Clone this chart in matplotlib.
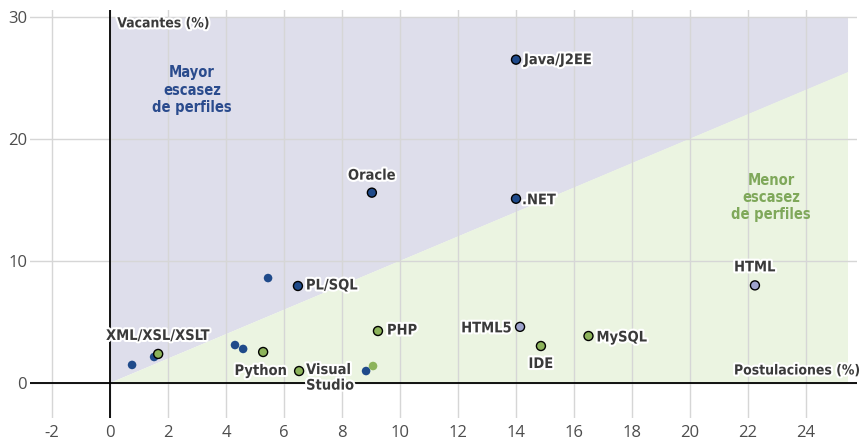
import matplotlib
matplotlib.use("Agg")
import matplotlib.pyplot as plt
import matplotlib.patheffects as pe

plt.rcParams["axes.unicode_minus"] = False

# labeled points
names = ["Java/J2EE", "Oracle", ".NET", "HTML", "PL/SQL", "PHP", "HTML5",
         "MySQL", "IDE", "Python", "Visual\nStudio", "XML/XSL/XSLT"]
post = [14.0, 9.03, 14.0, 22.24, 6.48, 9.24, 14.14, 16.5, 14.86, 5.28, 6.52, 1.66]
vac = [26.5, 15.6, 15.1, 8.0, 7.95, 4.26, 4.6, 3.85, 3.03, 2.54, 0.98, 2.38]
kind = ["blue", "blue", "blue", "lila", "blue", "green", "lila",
        "green", "green", "green", "green", "green"]

# unlabeled points
small_post = [5.45, 4.31, 4.59, 0.76, 1.52, 8.83, 9.07]
small_vac = [8.6, 3.11, 2.79, 1.48, 2.13, 0.98, 1.39]
small_kind = ["blue", "blue", "blue", "blue", "blue", "blue", "green"]

colors = {"blue": "#1f4a8a", "green": "#8cb35a", "lila": "#9ea3cc"}

# label placement: offset in pixels, ha, va
place = {
    "Java/J2EE": (8, 0, "left", "center"),
    "Oracle": (0, 10, "center", "bottom"),
    ".NET": (6, -1, "left", "center"),
    "HTML": (0, 11, "center", "bottom"),
    "PL/SQL": (8, 1, "left", "center"),
    "PHP": (9, 1, "left", "center"),
    "HTML5": (-8, -1, "right", "center"),
    "MySQL": (8, -1, "left", "center"),
    "IDE": (0, -10, "center", "top"),
    "Python": (24, -11, "right", "top"),
    "Visual\nStudio": (7, 9, "left", "top"),
    "XML/XSL/XSLT": (0, 11, "center", "bottom"),
}

lab_font = dict(family="DejaVu Sans", fontstretch="condensed", fontweight="bold")

fig = plt.figure(figsize=(8.64, 4.43), dpi=100)
ax = fig.add_axes([30 / 864, 25 / 443, 827 / 864, 408 / 443])
ax.set_xlim(-2.76, 25.76)
ax.set_ylim(-2.87, 30.57)

# shaded zones
xr = 25.45
ax.fill([0, xr, xr, 0], [0, xr, 30, 30], color="#dedeeb", lw=0, zorder=0.2)
ax.fill([0, xr, xr], [0, 0, xr], color="#ebf4e1", lw=0, zorder=0.2)

ax.set_axisbelow(True)
ax.grid(True, color="#d6d6d6", lw=1)
ax.set_xticks(range(-2, 25, 2))
ax.set_yticks([0, 10, 20, 30])
ax.tick_params(length=0, labelsize=12, labelcolor="#4d4d4d", pad=5)
ax.tick_params(axis="y", pad=2)
for lab in ax.get_xticklabels() + ax.get_yticklabels():
    lab.set_fontfamily(["Open Sans", "DejaVu Sans"])
for s in ax.spines.values():
    s.set_visible(False)
ax.axhline(0, color="black", lw=1.3, zorder=2)
ax.axvline(0, color="black", lw=1.3, zorder=2)

stroke = [pe.withStroke(linewidth=3, foreground="white")]

ax.scatter(small_post, small_vac, s=38, c=[colors[k] for k in small_kind],
           lw=0, zorder=3)
ax.scatter(post, vac, s=42, c=[colors[k] for k in kind],
           edgecolors="black", linewidths=1, zorder=4)

for n, x, y in zip(names, post, vac):
    dx, dy, ha, va = place[n]
    ax.annotate(n, (x, y), xytext=(dx, dy), textcoords="offset pixels",
                ha=ha, va=va, fontsize=10.5, color="#3a3a3a",
                linespacing=1.05, path_effects=stroke, zorder=5, **lab_font)

ax.text(0.25, 30.05, "Vacantes (%)", ha="left", va="top", fontsize=10,
        color="#3a3a3a", path_effects=stroke, zorder=5, **lab_font)
ax.text(25.85, 0.45, "Postulaciones (%)", ha="right", va="bottom", fontsize=10,
        color="#3a3a3a", path_effects=stroke, zorder=5, **lab_font)
ax.text(2.83, 24.0, "Mayor\nescasez\nde perfiles", ha="center", va="center",
        fontsize=10.5, color="#2a4b8d", linespacing=1.2, zorder=5, **lab_font)
ax.text(22.8, 15.2, "Menor\nescasez\nde perfiles", ha="center", va="center",
        fontsize=10.5, color="#7fa85a", linespacing=1.2, zorder=5, **lab_font)

fig.savefig("out.png", dpi=100)
